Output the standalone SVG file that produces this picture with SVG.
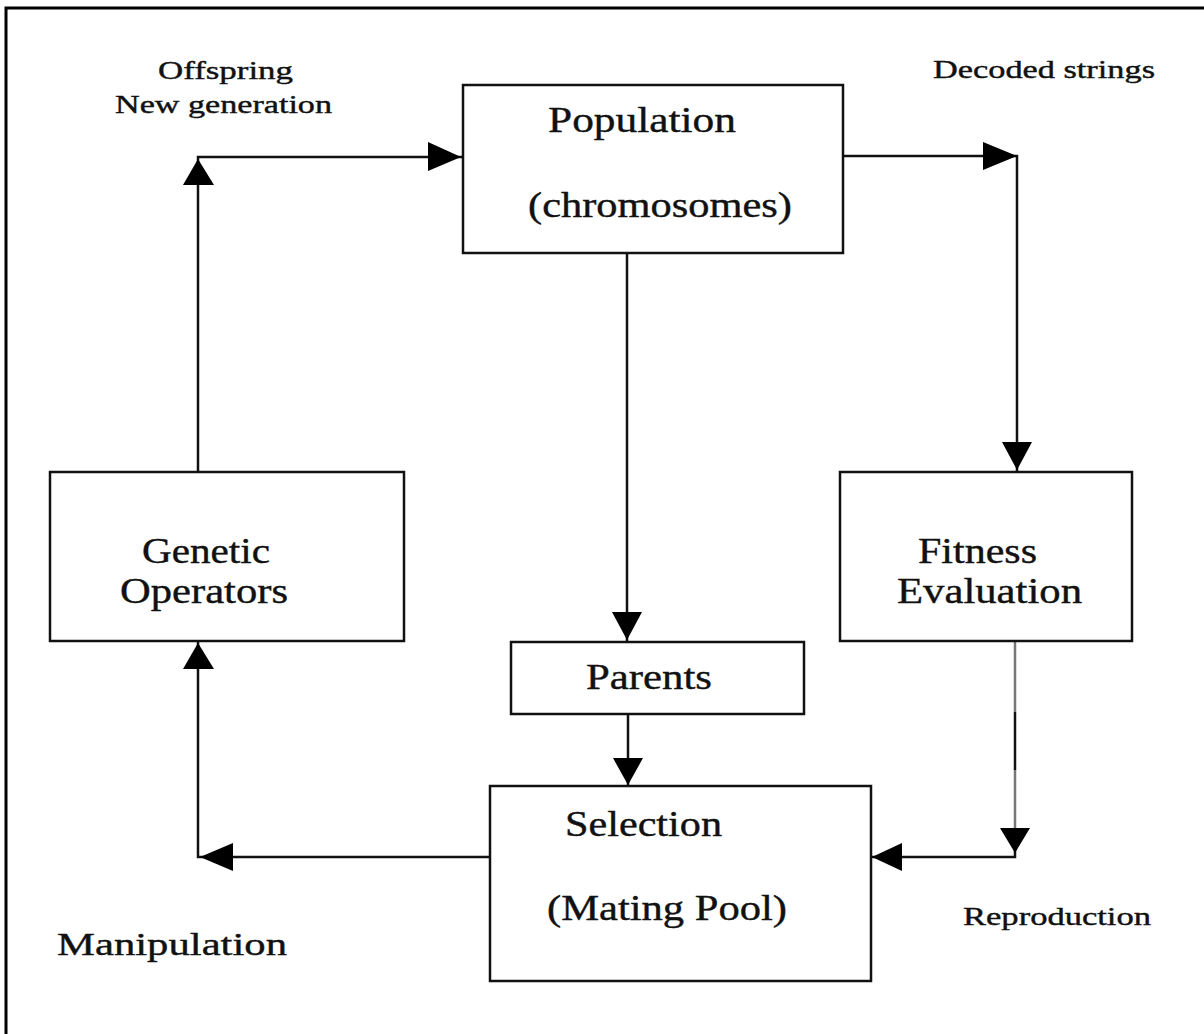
<svg xmlns="http://www.w3.org/2000/svg" width="1204" height="1034" viewBox="0 0 1204 1034">
<style>
.box{fill:#fff;stroke:#111;stroke-width:2.5}
.ln{fill:none;stroke:#111;stroke-width:2.5}
.t{font-family:"Liberation Serif","Times New Roman",serif;fill:#111;stroke:#111;stroke-width:0.4}
.big{font-size:36px}
.sm{font-size:25px}
.ah{fill:#000}
</style>
<rect width="1204" height="1034" fill="#fff"/>
<path d="M6,1034 V8 H1204" fill="none" stroke="#000" stroke-width="3"/>
<g id="connectors">
<path class="ln" d="M198,472 V157 H462"/>
<polygon class="ah" points="198,159 183,185 214,185"/>
<polygon class="ah" points="461,157 428,142 428,171"/>
<path class="ln" d="M843,156 H1017 V472"/>
<polygon class="ah" points="1017,156 983,142 983,170"/>
<polygon class="ah" points="1017,470 1002,442 1032,442"/>
<path class="ln" d="M627,254 V641"/>
<polygon class="ah" points="627,640 612,612 642,612"/>
<path class="ln" d="M628,714 V786"/>
<polygon class="ah" points="628,785 613,758 643,758"/>
<path d="M1015,642 V712" fill="none" stroke="#777" stroke-width="2.5"/>
<path d="M1015,712 V770" fill="none" stroke="#111" stroke-width="2.5"/>
<path d="M1015,770 V830" fill="none" stroke="#777" stroke-width="2.5"/>
<path class="ln" d="M1015,828 V857 H871"/>
<polygon class="ah" points="1015,853 1000,828 1030,828"/>
<polygon class="ah" points="872,857 902,843 902,871"/>
<path class="ln" d="M490,857 H198 V641"/>
<polygon class="ah" points="200,857 233,843 233,871"/>
<polygon class="ah" points="198,643 183,669 214,669"/>
</g>
<g id="population">
<rect class="box" x="463" y="85" width="380" height="168"/>
<text class="t big" x="548" y="132" textLength="188" lengthAdjust="spacingAndGlyphs">Population</text>
<text class="t big" x="528" y="217" textLength="264" lengthAdjust="spacingAndGlyphs">(chromosomes)</text>
</g>
<g id="genetic-operators">
<rect class="box" x="50" y="472" width="354" height="169"/>
<text class="t big" x="142" y="563" textLength="128" lengthAdjust="spacingAndGlyphs">Genetic</text>
<text class="t big" x="120" y="603" textLength="168" lengthAdjust="spacingAndGlyphs">Operators</text>
</g>
<g id="fitness-evaluation">
<rect class="box" x="840" y="472" width="292" height="169"/>
<text class="t big" x="918" y="563" textLength="119" lengthAdjust="spacingAndGlyphs">Fitness</text>
<text class="t big" x="897" y="603" textLength="185" lengthAdjust="spacingAndGlyphs">Evaluation</text>
</g>
<g id="parents">
<rect class="box" x="511" y="642" width="293" height="72"/>
<text class="t big" x="586" y="689" textLength="126" lengthAdjust="spacingAndGlyphs">Parents</text>
</g>
<g id="selection">
<rect class="box" x="490" y="786" width="381" height="195"/>
<text class="t big" x="565" y="836" textLength="157" lengthAdjust="spacingAndGlyphs">Selection</text>
<text class="t big" x="547" y="920" textLength="240" lengthAdjust="spacingAndGlyphs">(Mating Pool)</text>
</g>
<g id="labels">
<text class="t sm" x="158" y="79" textLength="135" lengthAdjust="spacingAndGlyphs">Offspring</text>
<text class="t sm" x="115" y="113" textLength="217" lengthAdjust="spacingAndGlyphs">New generation</text>
<text class="t sm" x="933" y="78" textLength="222" lengthAdjust="spacingAndGlyphs">Decoded strings</text>
<text class="t sm" x="963" y="925" textLength="188" lengthAdjust="spacingAndGlyphs">Reproduction</text>
<text class="t" font-size="32" x="57" y="955" textLength="230" lengthAdjust="spacingAndGlyphs">Manipulation</text>
</g>
</svg>
